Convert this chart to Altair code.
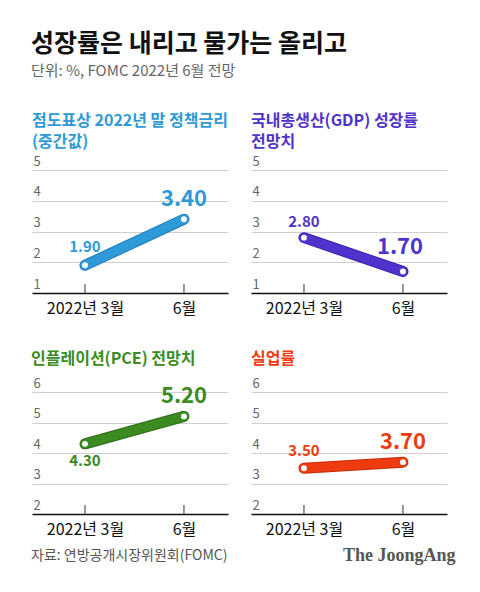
import altair as alt
import pandas as pd

months = ["2022년 3월", "6월"]
rate = [1.90, 3.40]
gdp = [2.80, 1.70]
pce = [4.30, 5.20]
unemp = [3.50, 3.70]

titles = [["점도표상 2022년 말 정책금리", "(중간값)"],
          ["국내총생산(GDP) 성장률", "전망치"],
          "인플레이션(PCE) 전망치",
          "실업률"]
colors = ["#2e9ad8", "#4f33cc", "#3b8a22", "#ee3b10"]
edges = ["#1f7cb8", "#3a22a8", "#2c6c16", "#c42c08"]
domains = [[1, 5], [1, 5], [2, 6], [2, 6]]
series = [rate, gdp, pce, unemp]
# label offsets (first point, second point)
dys = [(-18, -20), (-16, -24), (17, -20), (-17, -20)]
dxs = [(0, 0), (0, -3), (0, 0), (0, 0)]

FONT = "Noto Sans CJK KR"
W, H = 196, 123


def panel(i, footer=False):
    df = pd.DataFrame({"month": months, "value": series[i],
                       "label": [f"{v:.2f}" for v in series[i]],
                       "idx": [0, 1]})
    lo, hi = domains[i]
    h = H if i < 2 else 122
    x = alt.X("month:N", sort=months, title=None,
              scale=alt.Scale(type="point", padding=0.49, align=0.546),
              axis=alt.Axis(labelAngle=0, labelAlign="center", labelFlush=False,
                            domain=True, domainColor="#111",
                            domainWidth=1.5, ticks=False, grid=False,
                            labelFontSize=16, labelColor="#111",
                            labelFont=FONT, labelPadding=7))
    y = alt.Y("value:Q", title=None,
              scale=alt.Scale(domain=[lo, hi], nice=False, zero=False),
              axis=alt.Axis(values=list(range(lo, hi + 1)), domain=False,
                            ticks=False, grid=True, gridColor="#cfcfcf",
                            gridWidth=1, labelAlign="left",
                            labelBaseline="bottom", labelPadding=-1,
                            labelOffset=-2, labelFontSize=13,
                            labelColor="#666", labelFont=FONT, minExtent=0))
    base = alt.Chart(df)
    edge = base.mark_line(color=edges[i], strokeWidth=11, strokeCap="round").encode(x=x, y=y)
    ticks = base.mark_rule(color="#777", strokeWidth=1.5).encode(
        x=x, y=alt.value(h - 9), y2=alt.value(h))
    line = base.mark_line(color=colors[i], strokeWidth=9, strokeCap="round").encode(x=x, y=y)
    pts = base.mark_point(filled=True, fill="white", stroke=colors[i],
                          strokeWidth=1.5, size=55, opacity=1).encode(x=x, y=y)
    t0 = base.transform_filter("datum.idx == 0").mark_text(
        font=FONT, fontSize=15, fontWeight="bold", color=colors[i],
        dy=dys[i][0], dx=dxs[i][0]).encode(x=x, y=y, text="label:N")
    t1 = base.transform_filter("datum.idx == 1").mark_text(
        font=FONT, fontSize=22, fontWeight="bold", color=colors[i],
        dy=dys[i][1], dx=dxs[i][1]).encode(x=x, y=y, text="label:N")
    layers = [edge, ticks, line, pts, t0, t1]
    if footer:
        f1 = alt.Chart(pd.DataFrame({"t": ["자료: 연방공개시장위원회(FOMC)"]})).mark_text(
            font=FONT, fontSize=14, color="#555", align="left", baseline="middle"
        ).encode(x=alt.value(-1), y=alt.value(h + 42), text="t:N")
        f2 = alt.Chart(pd.DataFrame({"t": ["The JoongAng"]})).mark_text(
            font="Liberation Serif", fontSize=18, fontWeight="bold", color="#555",
            align="left", baseline="middle"
        ).encode(x=alt.value(311), y=alt.value(h + 42), text="t:N")
        layers += [f1, f2]
    return alt.layer(*layers).properties(
        width=W, height=h,
        title=alt.TitleParams(titles[i], anchor="start", color=colors[i],
                              fontSize=16, fontWeight="bold", font=FONT,
                              lineHeight=21, offset=5 if i < 2 else 10))


chart = alt.concat(panel(0), panel(1), panel(2, footer=True), panel(3),
                   columns=2, spacing={"row": 99, "column": 23},
                   bounds="flush").properties(
    title=alt.TitleParams("성장률은 내리고 물가는 올리고",
                          subtitle="단위: %, FOMC 2022년 6월 전망",
                          anchor="start", fontSize=25, fontWeight="bold",
                          font=FONT, color="#111", subtitleFont=FONT,
                          subtitleFontSize=15, subtitleColor="#666",
                          subtitlePadding=7, offset=34),
    padding={"left": 23, "top": 24, "right": 10, "bottom": 10},
    background="white",
).configure_view(stroke=None)

chart.save("out.html", embed_options={"renderer": "svg", "actions": False})
